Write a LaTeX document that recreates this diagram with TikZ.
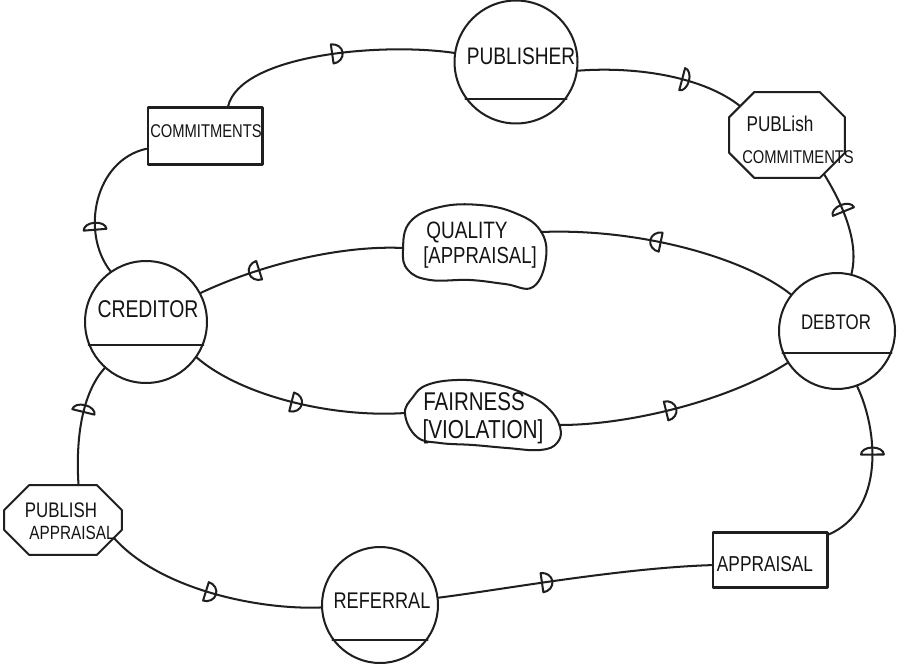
\documentclass[tikz,border=0pt]{standalone}
\usepackage{fontspec}
\newfontfamily\handfont{Liberation Sans}[FakeStretch=0.8]
\usetikzlibrary{decorations.markings}

\tikzset{
  ink/.style={line width=1.15pt, draw=black!88, line cap=round, line join=round},
  role/.style={ink, circle, minimum size=2.44cm, inner sep=0pt},
  store/.style={ink, rectangle, minimum width=2.3cm, minimum height=1.14cm, inner sep=0pt},
  octframe/.style={rectangle, inner sep=0pt},
  lbl/.style={font=\handfont\fontsize{#1}{#1}\selectfont, inner sep=0pt, text=black!92},
  lbl/.default=12,
  flow/.style={ink},
  % half-disc flow marks, bulging forward or backward along the line
  dfwd/.style={postaction={decorate}, decoration={markings, mark=at position #1 with
    {\draw[ink] (0,-5.5pt) -- (0,5.5pt) arc[start angle=90, end angle=-90, x radius=6pt, y radius=5.5pt];}}},
  dbwd/.style={postaction={decorate}, decoration={markings, mark=at position #1 with
    {\draw[ink] (0,5.5pt) -- (0,-5.5pt) arc[start angle=-90, end angle=-270, x radius=6pt, y radius=5.5pt];}}},
  oflat/.style={postaction={decorate}, decoration={markings, mark=at position #1 with
    {\draw[ink] (0,-6.5pt) -- (0,6.5pt) arc[start angle=90, end angle=-90, x radius=4pt, y radius=6.5pt];}}},
  oflatb/.style={postaction={decorate}, decoration={markings, mark=at position #1 with
    {\draw[ink] (0,6.5pt) -- (0,-6.5pt) arc[start angle=-90, end angle=-270, x radius=4pt, y radius=6.5pt];}}},
}

% octagon drawn round a rectangular node, corners cut by #2
\newcommand\octagonround[2]{%
  \draw[ink] ([xshift=#2]#1.north west) -- ([xshift=-#2]#1.north east)
    -- ([yshift=-#2]#1.north east) -- ([yshift=#2]#1.south east)
    -- ([xshift=-#2]#1.south east) -- ([xshift=#2]#1.south west)
    -- ([yshift=#2]#1.south west) -- ([yshift=-#2]#1.north west) -- cycle;}

\begin{document}
\begin{tikzpicture}[x=0.02cm, y=-0.02cm]
\fill[white] (0,0) rectangle (905,665);
\useasboundingbox (0,0) rectangle (905,665);

% roles
\node[role, minimum size=2.46cm] (pub) at (516,62) {};
\draw[ink] (pub.216) -- (pub.324);
\node[lbl=13.6] (pub-t) at (521,56) {PUBLISHER};

\node[role] (cred) at (146,322) {};
\draw[ink] (cred.202) -- (cred.338);
\node[lbl=13.8] (cred-t) at (148,309) {CREDITOR};

\node[role, minimum size=2.32cm] (debt) at (837,331) {};
\draw[ink] (debt.202) -- (debt.338);
\node[lbl=12] (debt-t) at (836,322) {DEBTOR};

\node[role, minimum size=2.32cm] (ref) at (380,605) {};
\draw[ink] (ref.216) -- (ref.324);
\node[lbl=12.9] (ref-t) at (382,601) {REFERRAL};

% records
\node[store] (comm) at (205,136) {};
\node[lbl=10.5] (comm-t) at (206,131) {COMMITMENTS};
\node[store, minimum height=1.1cm] (apr) at (770,560) {};
\node[lbl=12.3] (apr-t) at (765,564) {APPRAISAL};

% actions
\node[octframe, minimum width=2.3cm, minimum height=1.7cm] (pubc) at (787,135) {};
\octagonround{pubc}{0.5cm}
\node[lbl=12.2] (pubc-t1) at (780,124) {PUBLish};
\node[lbl=10.5] (pubc-t2) at (798,157) {COMMITMENTS};
\coordinate (pubc-in) at ([xshift=0.22cm, yshift=-0.28cm]pubc.north west);
\coordinate (pubc-out) at ([xshift=-0.42cm, yshift=0.08cm]pubc.south east);

\node[octframe, minimum width=2.34cm, minimum height=1.38cm] (puba) at (63,520) {};
\octagonround{puba}{0.5cm}
\node[lbl=12] (puba-t1) at (61,510) {PUBLISH};
\node[lbl=10.9] (puba-t2) at (72,533) {APPRAISAL};
\coordinate (puba-out) at ([xshift=-0.16cm, yshift=0.34cm]puba.south east);

% judgements
\draw[ink] plot[smooth cycle, tension=0.7] coordinates {
  (403,250) (410,222) (440,207) (480,205) (515,213) (540,230)
  (546,258) (533,287) (505,284) (470,280) (430,280) (408,270)};
\node[lbl=13.5] (qual-t1) at (467,232) {QUALITY};
\node[lbl=13.2] (qual-t2) at (480,258) {[APPRAISAL]};
\coordinate (q-w) at (403,248);
\coordinate (q-e) at (541,232);

\draw[ink] plot[smooth cycle, tension=0.7] coordinates {
  (405,414) (413,397) (427,385) (457,380) (490,383) (523,393)
  (547,407) (560,427) (557,443) (540,450) (507,448) (473,445)
  (440,443) (417,437)};
\node[lbl=14.6] (fair-t1) at (474,402) {FAIRNESS};
\node[lbl=14.8] (fair-t2) at (483,432) {[VIOLATION]};
\coordinate (f-w) at (405,413);
\coordinate (f-e) at (560,425);

% flows
\draw[flow, dfwd=0.5] (comm.52) .. controls (240,55) and (380,42) .. (pub);
\draw[flow, oflat=0.62] (pub.-8) .. controls (640,66) and (705,78) .. (pubc-in);
\draw[flow, oflatb=0.4] (pubc-out) .. controls (840,200) and (860,240) .. (debt);
\draw[flow, oflat=0.3] (cred.125) .. controls (80,232) and (95,160) .. (comm);
\draw[flow, dbwd=0.3] (cred.28) .. controls (260,265) and (340,245) .. (q-w);
\draw[flow, dbwd=0.46] (q-e) .. controls (640,228) and (745,258) .. (debt);
\draw[flow, dfwd=0.48] (cred.-35) .. controls (240,395) and (330,418) .. (f-w);
\draw[flow, dfwd=0.45] (f-e) .. controls (630,425) and (730,400) .. (debt);
\draw[flow, oflatb=0.42] (debt.-70) .. controls (878,430) and (885,510) .. (apr);
\draw[flow, dbwd=0.62] (apr.-175) .. controls (620,568) and (500,590) .. (ref);
\draw[flow, dfwd=0.48] (puba-out) .. controls (160,590) and (260,610) .. (ref);
\draw[flow, oflat=0.6] (puba.66) .. controls (75,430) and (85,390) .. (cred);
\end{tikzpicture}
\end{document}
